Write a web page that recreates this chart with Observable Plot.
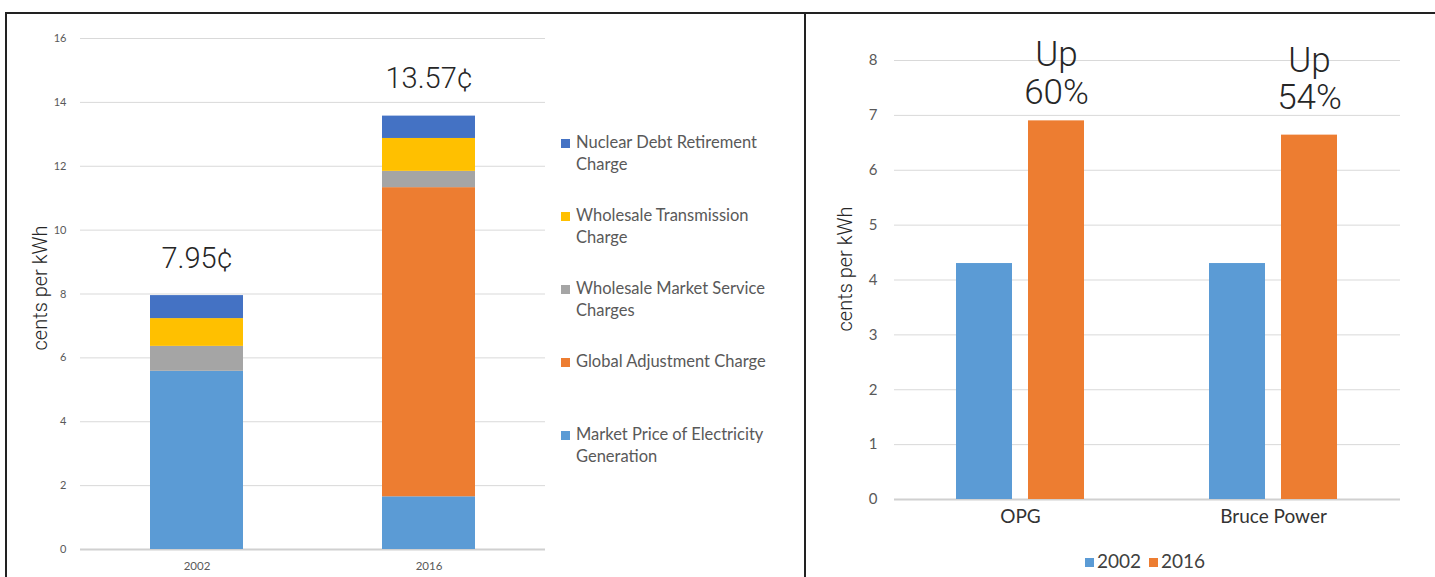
<!DOCTYPE html>
<html>
<head>
<meta charset="utf-8">
<script src="https://cdn.jsdelivr.net/npm/d3@7"></script>
<script src="https://cdn.jsdelivr.net/npm/@observablehq/plot@0.6"></script>
<style>
  html, body { margin: 0; padding: 0; background: #fff; }
  body { width: 1435px; height: 577px; overflow: hidden; position: relative; font-family: Lato, "Open Sans", sans-serif; }
  #frame { position: absolute; left: 5px; top: 12px; width: 1500px; height: 700px; border-left: 2px solid #222; border-top: 2px solid #222; }
  #divider { position: absolute; left: 804px; top: 12px; width: 2px; height: 700px; background: #222; }
  #left { position: absolute; left: 0; top: 0; }
  #right { position: absolute; left: 806px; top: 0; }
  .lg-sq { position: absolute; width: 9px; height: 9px; }
  .lg-tx { position: absolute; font-family: Lato, sans-serif; color: #595959; }
</style>
</head>
<body>
<div id="frame"></div>
<div id="divider"></div>
<div id="left"></div>
<div id="right"></div>
<div id="legendLeft"></div>
<div id="legendRight"></div>
<script>
// ---- Left chart data (cents per kWh, stacked bottom -> top) ----
const years = ["2002", "2016"];
const components = [
  "Market Price of Electricity Generation",
  "Global Adjustment Charge",
  "Wholesale Market Service Charges",
  "Wholesale Transmission Charge",
  "Nuclear Debt Retirement Charge"
];
const componentColors = ["#5B9BD5", "#ED7D31", "#A5A5A5", "#FFC000", "#4472C4"];
const values2002 = [5.58, 0, 0.78, 0.87, 0.72];
const values2016 = [1.65, 9.68, 0.51, 1.03, 0.70];
const leftTicks = [0, 2, 4, 6, 8, 10, 12, 14, 16];

// ---- Right chart data (cents per kWh) ----
const generators = ["OPG", "Bruce Power"];
const genYears = ["2002", "2016"];
const genYearColors = ["#5B9BD5", "#ED7D31"];
const gen2002 = [4.30, 4.30];
const gen2016 = [6.90, 6.64];
const rightTicks = [0, 1, 2, 3, 4, 5, 6, 7, 8];

const axisTitle = "cents per kWh";

// ---- Build tables ----
const seriesByYear = [values2002, values2016];
const costRows = years.flatMap((yr, i) =>
  components.map((c, j) => ({year: yr, component: c, value: seriesByYear[i][j]})));
const totals = years.map((yr, i) => ({year: yr, total: d3.sum(seriesByYear[i])}));

const genRows = generators.flatMap((g, i) => [
  {gen: g, year: genYears[0], value: gen2002[i]},
  {gen: g, year: genYears[1], value: gen2016[i]}
]);
const upRows = generators.map((g, i) => ({
  gen: g, value: gen2016[i],
  text: `Up\n${Math.round((gen2016[i] / gen2002[i] - 1) * 100)}%`
}));

const bigFont = "Roboto, 'Liberation Sans', Arial, sans-serif";

// ---- Left plot ----
const left = Plot.plot({
  width: 800, height: 577,
  marginLeft: 80, marginRight: 255, marginTop: 38, marginBottom: 28,
  style: {fontFamily: "Lato, sans-serif", background: "transparent"},
  x: {domain: years, paddingInner: 0.6, paddingOuter: 0.298, label: null},
  y: {domain: [0, 16], label: null},
  color: {domain: components, range: componentColors},
  marks: [
    Plot.gridY(leftTicks, {stroke: "#d9d9d9", strokeOpacity: 1}),
    Plot.ruleY([0], {stroke: "#d0d0d0", strokeWidth: 2}),
    Plot.barY(costRows, {x: "year", y: "value", fill: "component"}),
    Plot.axisY(leftTicks, {tickSize: 0, tickPadding: 14, fontSize: 11, fill: "#595959", label: null, tickFormat: d3.format("d")}),
    Plot.axisX({tickSize: 0, tickPadding: 12, fontSize: 11.5, fill: "#595959", label: null}),
    Plot.text(totals, {x: "year", y: "total", text: d => d.total.toFixed(2) + "¢",
      dy: -28, lineAnchor: "bottom", fontSize: 29, fontWeight: 300, fontFamily: bigFont, fill: "#262626"}),
    Plot.text([axisTitle], {frameAnchor: "left", textAnchor: "middle", rotate: -90, dx: -40, dy: -6, fontSize: 20,
      fontWeight: 300, fontFamily: bigFont, fill: "#262626"})
  ]
});
document.getElementById("left").appendChild(left);

// ---- Right plot ----
const right = Plot.plot({
  width: 629, height: 577,
  marginLeft: 88, marginRight: 35, marginTop: 60, marginBottom: 78,
  style: {fontFamily: "Lato, sans-serif", background: "transparent"},
  x: {domain: generators, paddingInner: 0.493, paddingOuter: 0.2455, label: null},
  y: {domain: [0, 8], label: null},
  color: {domain: genYears, range: genYearColors},
  marks: [
    Plot.gridY(rightTicks, {stroke: "#d9d9d9", strokeOpacity: 1}),
    Plot.ruleY([0], {stroke: "#d0d0d0", strokeWidth: 2}),
    Plot.barY(genRows.filter(d => d.year === genYears[0]), {x: "gen", y: "value", fill: "year", insetRight: 72}),
    Plot.barY(genRows.filter(d => d.year === genYears[1]), {x: "gen", y: "value", fill: "year", insetLeft: 72}),
    Plot.axisY(rightTicks, {tickSize: 0, tickPadding: 17, fontSize: 15, fill: "#595959", label: null, tickFormat: d3.format("d")}),
    Plot.axisX({tickSize: 0, tickPadding: 10, fontSize: 19, fill: "#333", label: null}),
    Plot.text(upRows.slice(0, 1), {x: "gen", y: "value", text: "text", dx: 36, dy: -17, lineAnchor: "bottom",
      lineHeight: 1.07, fontSize: 35, fontWeight: 300, fontFamily: bigFont, fill: "#262626"}),
    Plot.text(upRows.slice(1), {x: "gen", y: "value", text: "text", dx: 36, dy: -26, lineAnchor: "bottom",
      lineHeight: 1.07, fontSize: 35, fontWeight: 300, fontFamily: bigFont, fill: "#262626"}),
    Plot.text([axisTitle], {frameAnchor: "left", textAnchor: "middle", rotate: -90, dx: -49, dy: -11, fontSize: 20,
      fontWeight: 300, fontFamily: bigFont, fill: "#262626"})
  ]
});
document.getElementById("right").appendChild(right);

// ---- Left legend (top to bottom = top of stack first) ----
const lgL = document.getElementById("legendLeft");
components.slice().reverse().forEach((c, k) => {
  const color = componentColors[components.indexOf(c)];
  const sq = document.createElement("div");
  sq.className = "lg-sq";
  sq.style.left = "561px"; sq.style.top = (139 + 73 * k) + "px"; sq.style.background = color;
  lgL.appendChild(sq);
  const tx = document.createElement("div");
  tx.className = "lg-tx";
  tx.style.left = "576px"; tx.style.top = (131 + 73 * k) + "px";
  tx.style.width = "218px"; tx.style.fontSize = "16.5px"; tx.style.lineHeight = "22px";
  tx.textContent = c;
  lgL.appendChild(tx);
});

// ---- Right legend ----
const lgR = document.getElementById("legendRight");
const lgPos = [1085, 1149];
genYears.forEach((y, k) => {
  const sq = document.createElement("div");
  sq.className = "lg-sq";
  sq.style.left = lgPos[k] + "px"; sq.style.top = "558px"; sq.style.background = genYearColors[k];
  lgR.appendChild(sq);
  const tx = document.createElement("div");
  tx.className = "lg-tx";
  tx.style.left = (lgPos[k] + 12) + "px"; tx.style.top = "551px";
  tx.style.fontSize = "19px"; tx.style.lineHeight = "19px"; tx.style.color = "#404040";
  tx.textContent = y;
  lgR.appendChild(tx);
});
</script>
</body>
</html>
